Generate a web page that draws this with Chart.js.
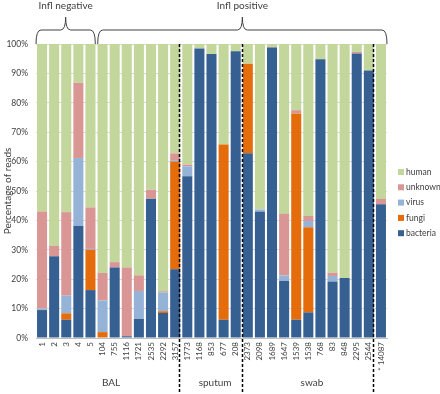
<!DOCTYPE html>
<html>
<head>
<meta charset="utf-8">
<script src="https://cdn.jsdelivr.net/npm/chart.js@4/dist/chart.umd.min.js"></script>
<style>
  html, body { margin: 0; padding: 0; background: #fff; }
  #wrap { width: 440px; height: 394px; position: relative; }
</style>
</head>
<body>
<div id="wrap"><canvas id="chart" width="440" height="394"></canvas></div>
<script>
const samples = ['1','2','3','4','5','104','755','1116','1721','2535','2292','3157',
    '1773','1168','853','677','208',
    '2373','2098','1689','1647','1539','1538','768','83','848','2295','2544',
    '* 14087'];

const bacteria = [9.5, 27.8, 6.2, 38.1, 16.3, 0.2, 24, 0.6, 6.5, 47.4, 8.5, 23.4,
    55, 98.5, 96.6, 6.2, 97.5,
    62.8, 42.9, 98.8, 19.4, 6.2, 8.7, 94.8, 19.2, 20.4, 96.8, 91,
    45.5];
const fungi    = [0, 0, 2.2, 0, 13.7, 1.8, 0, 0, 0, 0, 0.6, 36.6,
    0, 0, 0, 59.6, 0,
    30.5, 0, 0, 0, 70.2, 29, 0, 0, 0, 0, 0,
    0];
const virus    = [0.5, 0, 6, 23.1, 0.3, 10.8, 0, 0, 9.5, 0, 6.4, 0.5,
    3.4, 0, 0, 0, 0,
    0, 0.8, 0, 1.9, 0, 2.1, 0, 1.9, 0, 0, 0,
    0];
const unknown  = [33, 3.5, 28.4, 25.6, 14.1, 9.3, 1.8, 23.4, 5.3, 3, 0.4, 2.3,
    0.6, 0, 0, 0, 0,
    0, 0, 0.2, 20.9, 1.1, 1.7, 0, 1.1, 0, 0.5, 0,
    1.8];
const human    = [57, 68.7, 57.2, 13.2, 55.6, 77.9, 74.2, 76, 78.7, 49.6, 84.1, 37.2,
    41, 1.5, 3.4, 34.2, 2.5,
    6.7, 56.3, 1, 57.8, 22.5, 58.5, 5.2, 77.8, 79.6, 2.7, 9,
    52.7];

const yTicks = [0, 10, 20, 30, 40, 50, 60, 70, 80, 90, 100];

// dashed separators sit between sample groups (in category-index units)
const dividers = [11.35, 16.5, 27.35];
const groupLabels = [['BAL', 5.7], ['sputum', 14.3], ['swab', 22.3]];
const braces = [['Infl negative', -0.5, 4.4], ['Infl positive', 4.6, 28.5]];

const COLORS = {
    bacteria: '#376092',
    fungi:    '#e46c0a',
    virus:    '#95b3d7',
    unknown:  '#d99694',
    human:    '#c3d69b',
};
const FONT = 'Lato, "Open Sans", sans-serif';
const TXT = '#404040';

function pxOf(scale, v) {
    // category scale: interpolate between neighbouring category centers
    const i = Math.floor(v);
    const a = scale.getPixelForValue(i);
    const b = scale.getPixelForValue(i + 1);
    return a + (b - a) * (v - i);
}

const overlay = {
    id: 'overlay',
    afterDraw(chart) {
        const { ctx, chartArea } = chart;
        const x = chart.scales.x;
        ctx.save();

        // dashed dividers
        ctx.strokeStyle = '#000';
        ctx.lineWidth = 1.5;
        ctx.setLineDash([3, 2]);
        dividers.forEach(d => {
            const px = Math.round(pxOf(x, d)) + 0.5;
            ctx.beginPath();
            ctx.moveTo(px, chartArea.top);
            ctx.lineTo(px, 392);
            ctx.stroke();
        });
        ctx.setLineDash([]);

        // group labels under the axis
        ctx.fillStyle = TXT;
        ctx.font = '10px ' + FONT;
        ctx.textAlign = 'center';
        ctx.textBaseline = 'middle';
        groupLabels.forEach(([t, v]) => ctx.fillText(t, pxOf(x, v), 383));

        // curly braces on top
        ctx.strokeStyle = TXT;
        ctx.lineWidth = 1;
        braces.forEach(([t, a, b]) => {
            const x0 = pxOf(x, a), x1 = pxOf(x, b), xm = (x0 + x1) / 2;
            const yb = 44, yl = 30, yp = 17, r = 5;
            ctx.beginPath();
            ctx.moveTo(x0, yb);
            ctx.quadraticCurveTo(x0, yl, x0 + r, yl);
            ctx.lineTo(xm - r, yl);
            ctx.quadraticCurveTo(xm, yl, xm, yp);
            ctx.quadraticCurveTo(xm, yl, xm + r, yl);
            ctx.lineTo(x1 - r, yl);
            ctx.quadraticCurveTo(x1, yl, x1, yb);
            ctx.stroke();
            ctx.fillText(t, xm, 6);
        });

        // legend (top series first)
        const items = ['human', 'unknown', 'virus', 'fungi', 'bacteria'];
        ctx.font = '8.5px ' + FONT;
        ctx.textAlign = 'left';
        items.forEach((name, i) => {
            const y = 172 + i * 15.3;
            ctx.fillStyle = COLORS[name];
            ctx.fillRect(398, y - 3, 6, 6);
            ctx.fillStyle = TXT;
            ctx.fillText(name, 406, y);
        });
        ctx.restore();
    }
};

const mk = (label, data) => ({
    label, data,
    backgroundColor: COLORS[label],
    borderWidth: 0,
    categoryPercentage: 1,
    barPercentage: 0.83,
});

new Chart(document.getElementById('chart'), {
    type: 'bar',
    data: {
        labels: samples,
        datasets: [
            mk('bacteria', bacteria),
            mk('fungi', fungi),
            mk('virus', virus),
            mk('unknown', unknown),
            mk('human', human),
        ],
    },
    options: {
        responsive: false,
        animation: false,
        layout: { padding: { top: 44, right: 53, left: 0, bottom: 0 } },
        plugins: { legend: { display: false }, tooltip: { enabled: false } },
        scales: {
            x: {
                stacked: true,
                grid: { display: false, drawTicks: false },
                border: { color: '#bfbfbf' },
                afterFit: s => { s.height = 56; },
                ticks: {
                    autoSkip: false,
                    maxRotation: 90,
                    minRotation: 90,
                    padding: 4,
                    color: TXT,
                    font: { family: FONT, size: 8 },
                },
            },
            y: {
                stacked: true,
                min: 0,
                max: 100,
                afterFit: s => { s.width = 36; },
                afterBuildTicks: s => { s.ticks = yTicks.map(v => ({ value: v })); },
                grid: { color: '#d9d9d9', drawTicks: false },
                border: { display: false },
                title: {
                    display: true,
                    text: 'Percentage of reads',
                    color: TXT,
                    font: { family: FONT, size: 10 },
                    padding: { top: 2, bottom: 0 },
                },
                ticks: {
                    padding: 8,
                    color: TXT,
                    font: { family: FONT, size: 8.5 },
                    callback: v => v + '%',
                },
            },
        },
    },
    plugins: [overlay],
});
</script>
</body>
</html>
